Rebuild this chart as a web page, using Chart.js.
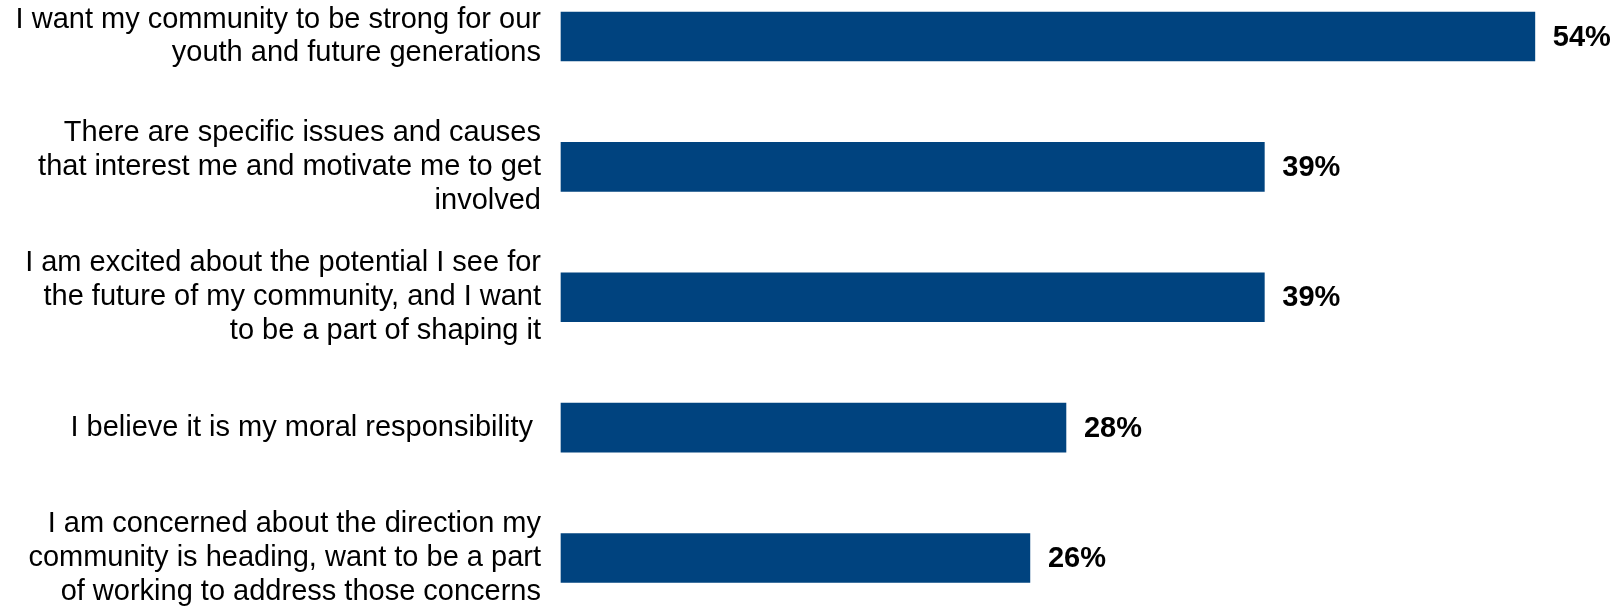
<!DOCTYPE html>
<html>
<head>
<meta charset="utf-8">
<script src="https://cdn.jsdelivr.net/npm/chart.js@4.4.1/dist/chart.umd.min.js"></script>
<style>
  html, body { margin: 0; padding: 0; background: #fff; }
  #wrap { width: 1619px; height: 607px; }
</style>
</head>
<body>
<div id="wrap"><canvas id="motivations" width="1619" height="607"></canvas></div>
<script>
const reasons = [
    ["I want my community to be strong for our", "youth and future generations"],
    ["There are specific issues and causes", "that interest me and motivate me to get", "involved"],
    ["I am excited about the potential I see for", "the future of my community, and I want", "to be a part of shaping it"],
    "I believe it is my moral responsibility ",
    ["I am concerned about the direction my", "community is heading, want to be a part", "of working to address those concerns"]
]
const percents = [54, 39, 39, 28, 26]
const barColor = "#00437f"

// draws the "54%" style labels at the end of each bar
const valueLabels = {
    id: "valueLabels",
    afterDatasetsDraw(chart) {
        const ctx = chart.ctx
        const meta = chart.getDatasetMeta(0)
        ctx.save()
        ctx.font = "bold 29px 'Liberation Sans', Arial, sans-serif"
        ctx.fillStyle = "#000"
        ctx.textAlign = "left"
        ctx.textBaseline = "middle"
        meta.data.forEach((bar, i) => {
            ctx.fillText(percents[i] + "%", bar.x + 18, bar.y + 1)
        })
        ctx.restore()
    }
}

const obj = document.getElementById("motivations")
new Chart(obj, {
    type: "bar",
    data: {
        labels: reasons,
        datasets: [
            {
                data: percents,
                backgroundColor: barColor,
                barThickness: 49,
                clip: false
            }
        ]
    },
    options: {
        indexAxis: "y",
        responsive: false,
        animation: false,
        layout: {
            padding: { top: 36.5, bottom: 49, left: 0, right: 12 }
        },
        plugins: {
            legend: { display: false },
            tooltip: { enabled: false }
        },
        scales: {
            x: {
                display: false,
                min: 0,
                max: 58
            },
            y: {
                offset: false,
                grid: { display: false, drawTicks: false },
                border: { display: false },
                afterFit: (scale) => {
                    scale.width = 561
                    scale.paddingTop = 0
                    scale.paddingBottom = 0
                },
                ticks: {
                    padding: 20,
                    color: "#000",
                    font: { family: "'Liberation Sans', Arial, sans-serif", size: 29, lineHeight: 1.17 }
                }
            }
        }
    },
    plugins: [valueLabels]
})
</script>
</body>
</html>
